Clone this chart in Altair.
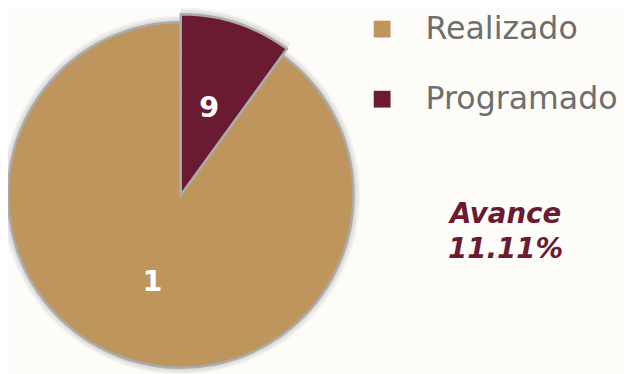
import altair as alt
import pandas as pd

# Data as drawn in the reference
categorias = ["Programado", "Realizado"]
etiquetas = ["9", "1"]          # numbers printed on each sector
sector = [1, 9]                  # relative angular size of each sector as drawn
orden = [0, 1]
realizado = 1
programado = 9

colores_dom = ["Realizado", "Programado"]
colores_rng = ["#BD955D", "#6A1B32"]

df = pd.DataFrame({"categoria": categorias, "etiqueta": etiquetas,
                   "sector": sector, "orden": orden})

avance = realizado / programado * 100

CX, CY = 175, 187
R_BIG, R_SMALL = 183, 175

base = alt.Chart(df).transform_window(
    cum="sum(sector)", sort=[alt.SortField("orden")], frame=[None, 0]
).transform_joinaggregate(
    total="sum(sector)"
).transform_calculate(
    t0="(datum.cum - datum.sector) / datum.total * 2 * PI",
    t1="datum.cum / datum.total * 2 * PI",
    tm="(datum.cum - datum.sector / 2) / datum.total * 2 * PI",
)

enc_arc = dict(
    x=alt.value(CX), y=alt.value(CY),
    theta=alt.Theta("t0:Q", scale=None), theta2=alt.Theta2("t1:Q"),
)

layers = []
# soft shadow
for k in range(1, 8):
    for cat, r in (("Programado", R_BIG), ("Realizado", R_SMALL)):
        layers.append(
            base.transform_filter(alt.datum.categoria == cat)
            .mark_arc(fill="#555555", opacity=0.035, radius=r + k)
            .encode(**enc_arc)
        )

color_enc = alt.Color(
    "categoria:N",
    scale=alt.Scale(domain=colores_dom, range=colores_rng),
    legend=alt.Legend(
        orient="none", legendX=363, legendY=3, title=None, padding=0,
        symbolType="square", symbolSize=289, symbolStrokeWidth=0,
        symbolOpacity=1, labelLimit=400,
        labelFontSize=32, labelFont="DejaVu Sans", labelColor="#6E6E6E",
        labelOffset=28, rowPadding=39,
    ),
)

for cat, r in (("Realizado", R_SMALL), ("Programado", R_BIG)):
    layers.append(
        base.transform_filter(alt.datum.categoria == cat)
        .mark_arc(stroke="#ABABAB", strokeWidth=2.5, radius=r)
        .encode(color=color_enc, **enc_arc)
    )

labels = base.mark_text(radius=93, fontSize=29, fontWeight="bold",
                        font="DejaVu Sans", color="white").encode(
    x=alt.value(CX), y=alt.value(CY),
    theta=alt.Theta("tm:Q", scale=None),
    text="etiqueta:N",
)
layers.append(labels)

avance_txt = alt.Chart(pd.DataFrame({"t": [0]})).mark_text(
    text=["Avance", f"{avance:.2f}%"], font="DejaVu Sans", fontSize=28,
    fontWeight="bold", fontStyle="italic", color="#6A1B32",
    lineHeight=36, align="center", baseline="alphabetic",
).encode(x=alt.value(504), y=alt.value(215))
layers.append(avance_txt)

chart = alt.layer(*layers).properties(
    width=623, height=366, padding=0,
    autosize=alt.AutoSizeParams(type="none"),
    background="#FDFCF9",
).configure_view(stroke=None)

chart.save("out.html", embed_options={"renderer": "svg", "actions": False})
